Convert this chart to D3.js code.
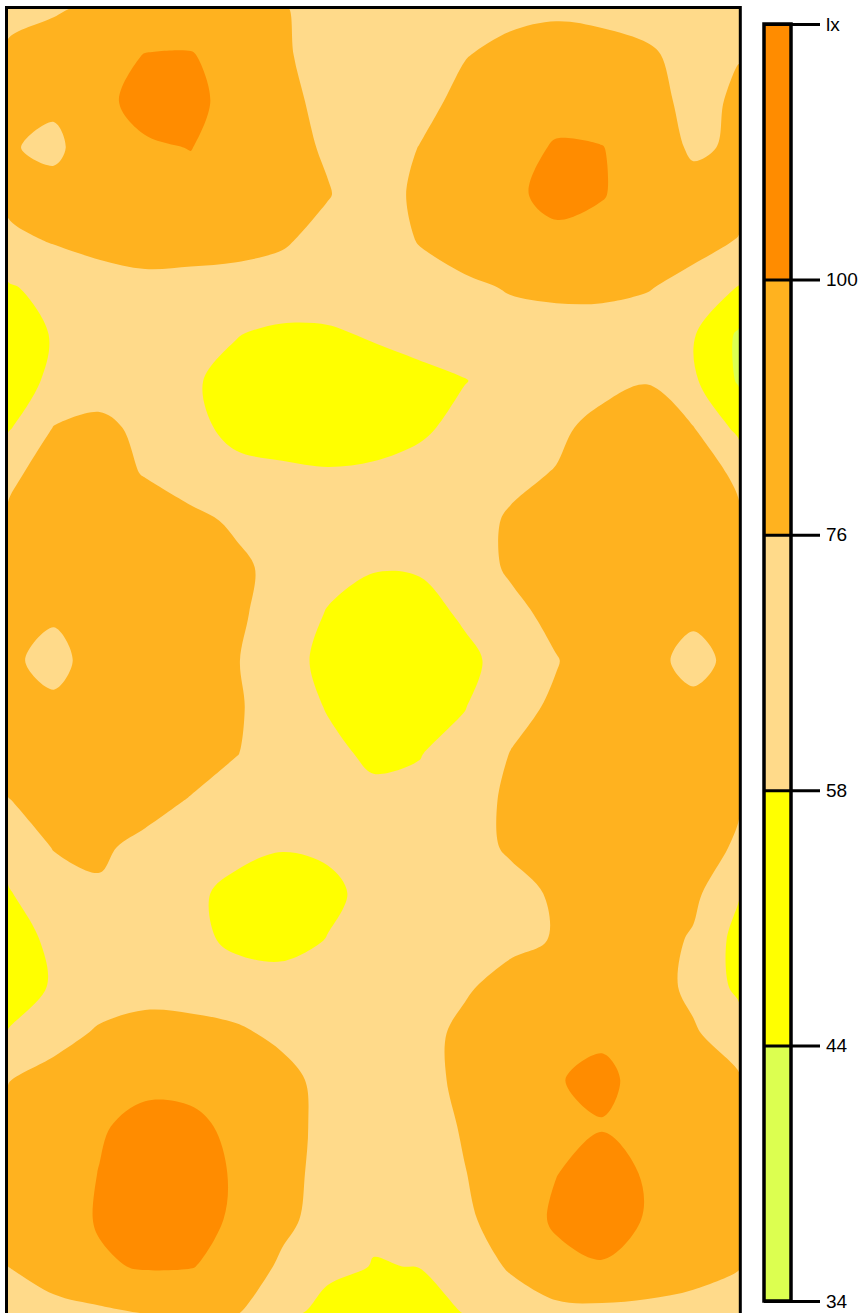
<!DOCTYPE html>
<html>
<head>
<meta charset="utf-8">
<script src="https://cdn.jsdelivr.net/npm/d3@7"></script>
<style>
  body { margin: 0; background: #ffffff; }
  svg { display: block; }
  text { font-family: "Liberation Sans", Arial, sans-serif; }
</style>
</head>
<body>
<svg id="chart" width="863" height="1313"></svg>
<script>
// Illuminance measurement grid (lx): 17 points west→east, 29 rows north→south
const gridCols = 17;
const gridRows = 29;
const illuminance = [
  [72, 74, 79, 86, 88, 84, 77, 70, 66, 65, 67, 70, 72, 70, 70, 68, 70],
  [78, 84, 92, 100.5, 101, 92, 78, 70, 64, 66, 75, 82, 86, 84, 78, 71, 75],
  [80, 80, 94, 108, 106, 92, 82, 70, 62, 69, 82, 90, 96, 92, 86, 68, 80],
  [78, 71, 90, 97, 100.5, 90, 82, 74, 64, 76.5, 88, 96, 101, 100.5, 92, 72, 80],
  [80, 84, 88, 92, 93, 90, 85, 77, 66, 80, 92, 96, 106, 101, 92, 86, 82],
  [72, 77, 80, 82, 82, 81, 78, 70, 64, 77, 86, 92, 95, 94, 88, 82, 75],
  [56, 64, 70, 72, 71, 70, 68, 66, 66, 67, 72, 77.5, 79, 79, 77, 70, 57],
  [50, 59, 66, 68, 63, 58.5, 55, 56, 59.5, 63, 66, 68, 70, 70, 67, 59, 42],
  [48, 62, 68, 67, 59.5, 54, 50, 49, 51, 54, 57.5, 64, 68, 70, 75, 60, 42.5],
  [56, 76.5, 80, 72, 62, 54, 48, 47, 50, 55, 63, 68, 72, 82, 88, 76.5, 53],
  [73, 82, 84, 75, 66, 62, 62, 60, 61, 64, 68, 72, 77, 90, 94, 87, 72],
  [78, 86, 90, 88, 81, 73, 65, 62, 62, 64, 69, 78, 88, 96, 98, 92, 79],
  [82, 86, 92, 94, 90, 80, 70, 63, 59, 60, 65, 79, 90, 96, 92, 91, 86],
  [82, 80, 90, 94, 90, 79, 68, 57, 51, 50, 61, 70, 82, 94, 86, 82, 88],
  [82, 66, 90, 93, 88, 77, 64, 54, 47, 47, 53, 66, 75, 88, 86, 66, 86],
  [84, 82, 90, 92, 88, 78, 67, 57, 50, 50, 57.5, 70, 79, 92, 90, 84, 88],
  [82, 86, 88, 88, 84, 76.5, 68, 62, 55, 57.5, 63, 76.5, 86, 94, 94, 90, 86],
  [75.5, 82, 84, 82, 75, 68, 63, 61, 62, 61, 66, 80, 92, 98, 96, 88, 78],
  [62, 77, 78.5, 72, 66, 62, 59, 60, 62, 65, 70, 78, 90, 96, 94, 86, 73],
  [57, 66, 74, 68, 61, 54, 50, 55, 62, 64, 68, 71, 78, 90, 90, 80, 59],
  [49, 62, 68, 67, 62, 55, 53, 58.5, 64, 68, 72, 72, 77, 88, 84, 74, 52],
  [47, 60, 68, 70, 68, 65, 64, 65, 67, 70, 74, 82, 88, 90, 84, 72, 54],
  [59, 70, 78, 82, 82, 79, 72, 66, 66, 70, 80, 88, 96, 97, 90, 78, 66],
  [75.5, 82, 90, 95, 95, 90, 82, 70, 64, 70, 80, 90, 99, 104, 94, 86, 78],
  [80, 88, 98, 106, 104, 96, 84, 70, 63, 66, 78, 88, 96, 99, 94, 88, 82],
  [82, 90, 100.5, 110, 108, 98, 84, 68, 62, 64, 75.5, 86, 99.5, 108, 98, 88, 80],
  [78, 88, 102, 112, 110, 96, 82, 66, 60, 62, 73, 84, 104, 112, 98, 86, 80],
  [76, 82, 97, 102, 101, 92, 72, 62, 57.5, 58.3, 66, 78, 92, 98, 90, 82, 76.5],
  [70, 72, 72, 76.5, 80, 77, 63, 52, 50, 50, 58.5, 66, 70, 70, 70, 70, 70]
];

// Iso-lux levels and the fill of each band (lowest band first)
const levels = [44, 58, 76, 100];
const bandColors = ["#DCFF50", "#FFFF00", "#FFDA8A", "#FFB21F", "#FF8C00"];
// Legend tick labels, bottom to top
const legendTicks = ["34", "44", "58", "76", "100", "lx"];

const svg = d3.select("#chart");

// Plot area
const plot = { left: 8, right: 739, top: 8, bottom: 1313 };

// Grid sample i sits at contour coordinate i + 0.5
const xCell = d3.scaleLinear()
  .domain([0.5, gridCols - 0.5])
  .range([plot.left, plot.right])
  .clamp(true);
const yCell = d3.scaleLinear()
  .domain([0.5, gridRows - 0.5])
  .range([plot.top, plot.bottom])
  .clamp(true);

const values = illuminance.flat();
const bands = d3.contours()
  .size([gridCols, gridRows])
  .thresholds(levels)(values);

svg.append("clipPath").attr("id", "plot-clip")
  .append("rect")
  .attr("x", plot.left).attr("y", plot.top)
  .attr("width", plot.right - plot.left)
  .attr("height", plot.bottom - plot.top);

const field = svg.append("g").attr("clip-path", "url(#plot-clip)");

// Lowest band as background
field.append("rect")
  .attr("x", plot.left).attr("y", plot.top)
  .attr("width", plot.right - plot.left)
  .attr("height", plot.bottom - plot.top)
  .attr("fill", bandColors[0]);

const ringLine = d3.line()
  .x(p => xCell(p[0]))
  .y(p => yCell(p[1]))
  .curve(d3.curveCatmullRomClosed.alpha(0.5));

function bandPath(mp) {
  return mp.coordinates
    .map(poly => poly.map(ring => ringLine(ring.slice(0, -1))).join(""))
    .join("");
}

field.selectAll("path.band")
  .data(bands)
  .join("path")
  .attr("class", "band")
  .attr("d", bandPath)
  .attr("fill", (d, i) => bandColors[i + 1])
  .attr("fill-rule", "evenodd");

// Plot frame
svg.append("rect")
  .attr("x", 6.5).attr("y", 7.5)
  .attr("width", 733.8).attr("height", 1330)
  .attr("fill", "none")
  .attr("stroke", "#000")
  .attr("stroke-width", 3);

// Colour legend
const legend = { left: 764, right: 791, top: 24, bottom: 1301, tickEnd: 820 };
const yLegend = d3.scalePoint()
  .domain(legendTicks)
  .range([legend.bottom, legend.top]);

const lg = svg.append("g");

lg.selectAll("rect.swatch")
  .data(d3.pairs(legendTicks))
  .join("rect")
  .attr("class", "swatch")
  .attr("x", legend.left)
  .attr("y", d => yLegend(d[1]))
  .attr("width", legend.right - legend.left)
  .attr("height", d => yLegend(d[0]) - yLegend(d[1]))
  .attr("fill", (d, i) => bandColors[i]);

lg.append("rect")
  .attr("x", legend.left).attr("y", legend.top)
  .attr("width", legend.right - legend.left)
  .attr("height", legend.bottom - legend.top)
  .attr("fill", "none")
  .attr("stroke", "#000")
  .attr("stroke-width", 3.5);

const legendAxis = d3.axisRight(yLegend)
  .tickSize(legend.tickEnd - legend.left)
  .tickPadding(6);

lg.append("g")
  .attr("transform", `translate(${legend.left},0)`)
  .call(legendAxis)
  .call(g => g.select(".domain").remove())
  .call(g => g.selectAll(".tick line").attr("stroke", "#000").attr("stroke-width", 3))
  .call(g => g.selectAll(".tick text")
    .attr("fill", "#000")
    .attr("font-size", 19)
    .attr("font-family", "\"Liberation Sans\", Arial, sans-serif"));
</script>
</body>
</html>
